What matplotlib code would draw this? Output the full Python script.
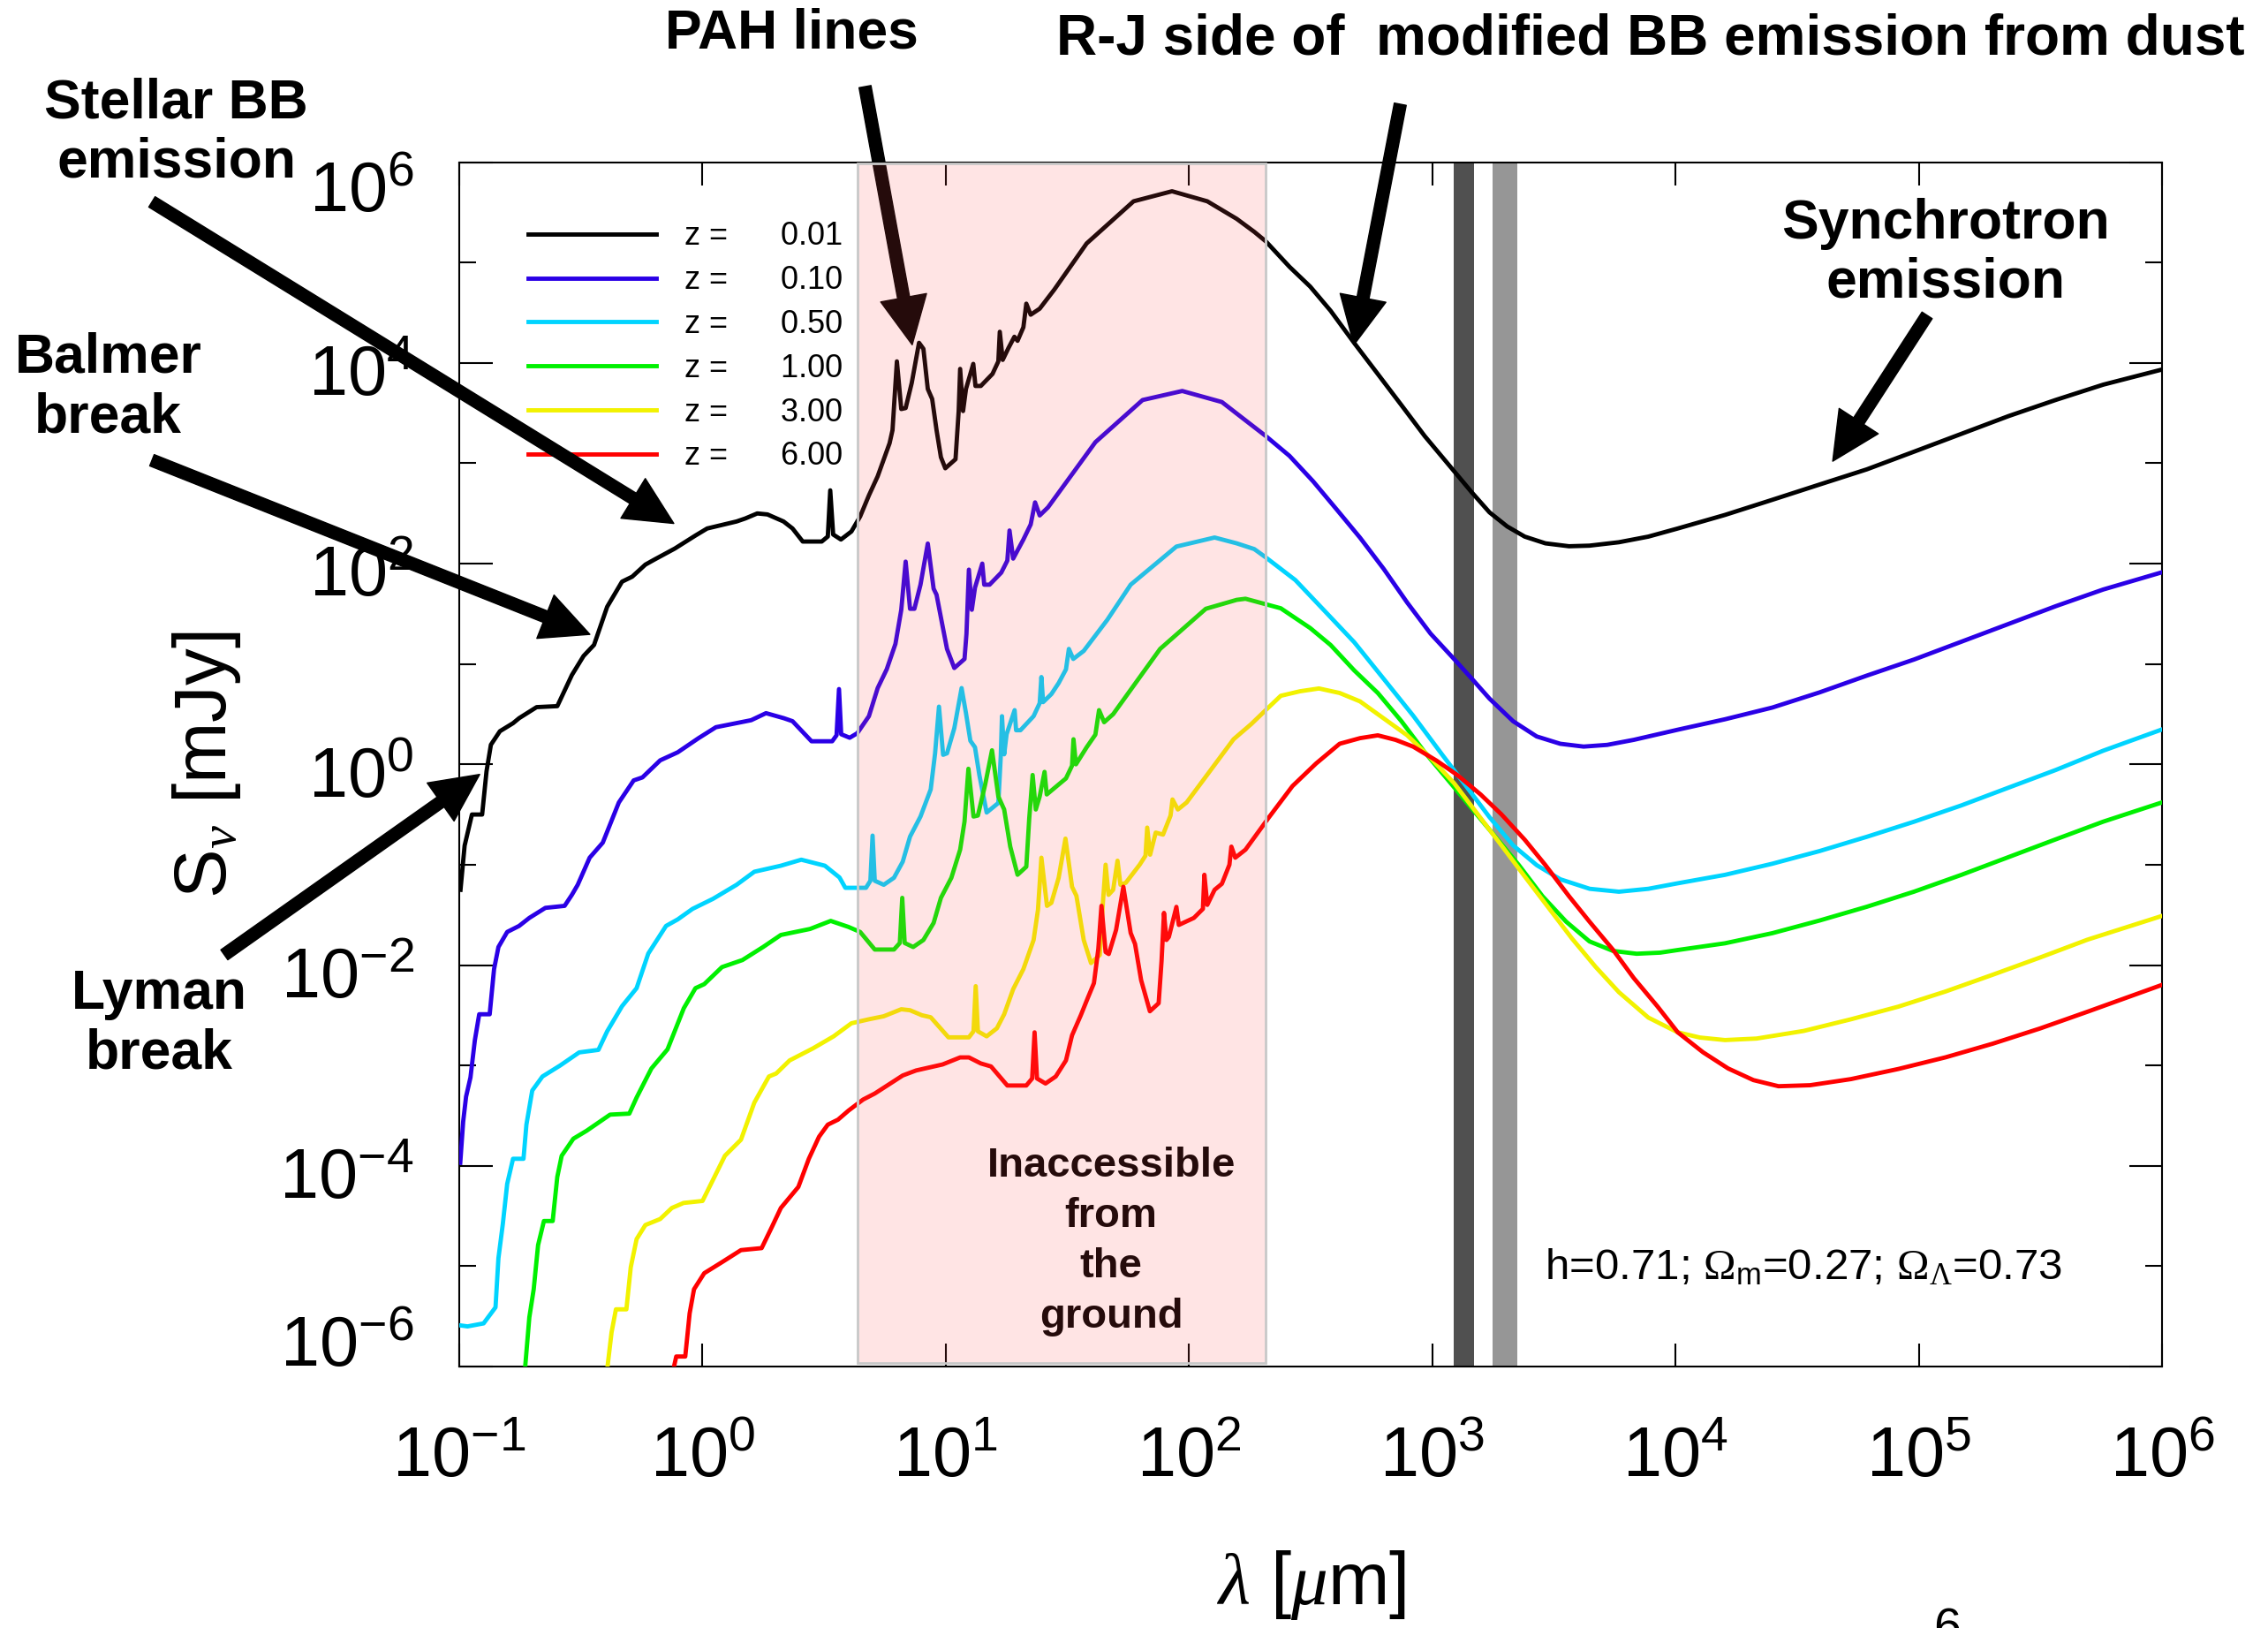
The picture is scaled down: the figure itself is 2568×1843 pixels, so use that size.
import numpy as np
import matplotlib
matplotlib.use("Agg")
import matplotlib.pyplot as plt
from matplotlib import font_manager
from matplotlib.ticker import NullLocator, NullFormatter
from matplotlib.transforms import ScaledTranslation

plt.rcParams['font.family'] = ['Liberation Sans', 'DejaVu Sans']
plt.rcParams['mathtext.fontset'] = 'custom'
plt.rcParams['mathtext.rm'] = 'Liberation Serif'
plt.rcParams['mathtext.it'] = 'Liberation Serif:italic'
plt.rcParams['mathtext.bf'] = 'Liberation Sans:bold'

redshifts = [0.01, 0.10, 0.50, 1.00, 3.00, 6.00]
colors = ['#000000', '#2a00e6', '#00d4ff', '#00f000', '#f2f200', '#ff0000']

# log10(wavelength / um) and log10(flux / mJy)
loglam_z001 = [-0.995, -0.978, -0.948, -0.906, -0.888, -0.870, -0.833, -0.779, -0.754, -0.682,
               -0.597, -0.537, -0.489, -0.446, -0.392, -0.331, -0.289, -0.235, -0.198, -0.114,
               -0.029, 0.019, 0.140, 0.176, 0.225, 0.267, 0.333, 0.370, 0.412, 0.490,
               0.515, 0.525, 0.537, 0.569, 0.612, 0.648, 0.684, 0.720, 0.769, 0.781,
               0.799, 0.817, 0.835, 0.860, 0.890, 0.908, 0.926, 0.944, 0.962, 0.980,
               0.998, 1.040, 1.053, 1.059, 1.071, 1.083, 1.113, 1.122, 1.144, 1.192,
               1.216, 1.222, 1.234, 1.258, 1.282, 1.295, 1.319, 1.331, 1.349, 1.386,
               1.446, 1.579, 1.772, 1.930, 2.075, 2.196, 2.268, 2.316, 2.413, 2.498,
               2.582, 2.679, 2.776, 2.873, 2.969, 3.066, 3.163, 3.235, 3.308, 3.380,
               3.465, 3.562, 3.646, 3.767, 3.888, 4.009, 4.203, 4.398, 4.592, 4.786,
               4.981, 5.175, 5.369, 5.563, 5.758, 6.000]
logS_z001 = [-1.25, -0.81, -0.50, -0.50, -0.07, 0.195, 0.33, 0.41, 0.46, 0.57,
             0.58, 0.89, 1.08, 1.19, 1.57, 1.82, 1.87, 1.99, 2.04, 2.15,
             2.28, 2.35, 2.42, 2.45, 2.50, 2.49, 2.42, 2.35, 2.22, 2.22,
             2.27, 2.73, 2.29, 2.24, 2.32, 2.47, 2.68, 2.87, 3.20, 3.33,
             4.015, 3.54, 3.55, 3.80, 4.20, 4.14, 3.74, 3.64, 3.33, 3.06,
             2.95, 3.04, 3.52, 3.94, 3.52, 3.74, 3.99, 3.77, 3.77, 3.89,
             4.015, 4.31, 4.03, 4.15, 4.26, 4.22, 4.355, 4.59, 4.48, 4.54,
             4.73, 5.19, 5.61, 5.71, 5.61, 5.435, 5.306, 5.21, 4.957, 4.76,
             4.519, 4.198, 3.889, 3.579, 3.27, 2.989, 2.708, 2.511, 2.37, 2.269,
             2.202, 2.173, 2.179, 2.213, 2.269, 2.35, 2.485, 2.636, 2.788, 2.939,
             3.116, 3.293, 3.47, 3.631, 3.783, 3.934]

loglam_z010 = [-0.996, -0.984, -0.972, -0.954, -0.936, -0.918, -0.875, -0.857, -0.839, -0.803,
               -0.754, -0.712, -0.646, -0.567, -0.537, -0.513, -0.464, -0.410, -0.344, -0.283,
               -0.247, -0.174, -0.102, -0.017, 0.055, 0.200, 0.261, 0.334, 0.370, 0.448,
               0.533, 0.551, 0.561, 0.570, 0.605, 0.636, 0.684, 0.720, 0.757, 0.793,
               0.817, 0.835, 0.853, 0.871, 0.896, 0.926, 0.950, 0.962, 0.985, 1.005,
               1.035, 1.077, 1.085, 1.095, 1.107, 1.120, 1.150, 1.158, 1.180, 1.228,
               1.253, 1.262, 1.277, 1.319, 1.349, 1.367, 1.386, 1.420, 1.615, 1.809,
               1.972, 2.135, 2.196, 2.316, 2.413, 2.510, 2.607, 2.703, 2.800, 2.897,
               2.993, 3.090, 3.163, 3.235, 3.332, 3.429, 3.526, 3.622, 3.719, 3.828,
               4.009, 4.203, 4.398, 4.592, 4.786, 4.981, 5.175, 5.369, 5.563, 5.758,
               6.000]
logS_z010 = [-3.97, -3.56, -3.31, -3.12, -2.75, -2.49, -2.49, -2.04, -1.82, -1.67,
             -1.61, -1.53, -1.43, -1.41, -1.30, -1.20, -0.93, -0.78, -0.38, -0.16,
             -0.13, 0.04, 0.12, 0.26, 0.37, 0.44, 0.51, 0.46, 0.43, 0.23,
             0.23, 0.29, 0.75, 0.30, 0.265, 0.31, 0.48, 0.76, 0.946, 1.20,
             1.54, 2.02, 1.55, 1.55, 1.79, 2.20, 1.75, 1.69, 1.40, 1.15,
             0.96, 1.05, 1.30, 1.94, 1.54, 1.76, 2.00, 1.79, 1.79, 1.91,
             2.03, 2.33, 2.05, 2.24, 2.39, 2.61, 2.48, 2.56, 3.21, 3.63,
             3.72, 3.61, 3.495, 3.27, 3.073, 2.82, 2.539, 2.258, 1.948, 1.611,
             1.302, 1.048, 0.852, 0.655, 0.43, 0.278, 0.205, 0.177, 0.194, 0.244,
             0.345, 0.449, 0.566, 0.717, 0.884, 1.045, 1.222, 1.399, 1.576, 1.742,
             1.914]

loglam_z050 = [-0.996, -0.966, -0.900, -0.851, -0.839, -0.821, -0.803, -0.779, -0.736, -0.724,
               -0.700, -0.658, -0.585, -0.507, -0.428, -0.392, -0.331, -0.271, -0.223, -0.150,
               -0.102, -0.041, 0.043, 0.140, 0.213, 0.322, 0.406, 0.503, 0.563, 0.587,
               0.672, 0.690, 0.699, 0.708, 0.745, 0.787, 0.823, 0.853, 0.896, 0.938,
               0.956, 0.972, 0.989, 1.005, 1.035, 1.065, 1.083, 1.101, 1.120, 1.138,
               1.168, 1.216, 1.226, 1.231, 1.240, 1.250, 1.283, 1.289, 1.307, 1.361,
               1.386, 1.393, 1.400, 1.434, 1.464, 1.494, 1.506, 1.524, 1.567, 1.664,
               1.760, 1.948, 2.105, 2.196, 2.268, 2.316, 2.437, 2.558, 2.679, 2.800,
               2.921, 3.042, 3.139, 3.235, 3.332, 3.429, 3.526, 3.647, 3.767, 3.888,
               4.009, 4.203, 4.398, 4.592, 4.786, 4.981, 5.175, 5.369, 5.563, 5.758,
               6.000]
logS_z050 = [-5.59, -5.60, -5.57, -5.41, -4.92, -4.58, -4.18, -3.93, -3.93, -3.59,
             -3.25, -3.11, -3.00, -2.87, -2.845, -2.66, -2.41, -2.23, -1.885, -1.61,
             -1.545, -1.44, -1.34, -1.20, -1.07, -1.01, -0.95, -1.01, -1.127, -1.23,
             -1.23, -1.16, -0.71, -1.16, -1.20, -1.13, -0.97, -0.72, -0.52, -0.25,
             0.11, 0.575, 0.095, 0.11, 0.36, 0.76, 0.51, 0.235, 0.17, -0.106,
             -0.48, -0.385, 0.08, 0.48, 0.10, 0.30, 0.54, 0.34, 0.34, 0.48,
             0.61, 0.87, 0.62, 0.70, 0.81, 0.946, 1.15, 1.05, 1.13, 1.44,
             1.79, 2.17, 2.26, 2.202, 2.145, 2.061, 1.836, 1.527, 1.217, 0.852,
             0.486, 0.092, -0.217, -0.526, -0.807, -1.004, -1.145, -1.24, -1.269, -1.24,
             -1.185, -1.101, -0.99, -0.864, -0.722, -0.571, -0.409, -0.232, -0.056, 0.136,
             0.348]

loglam_z100 = [-0.735, -0.730, -0.712, -0.694, -0.676, -0.652, -0.616, -0.597, -0.579, -0.531,
               -0.476, -0.440, -0.380, -0.301, -0.271, -0.210, -0.144, -0.077, -0.029, 0.007,
               0.080, 0.164, 0.249, 0.322, 0.442, 0.527, 0.600, 0.648, 0.708, 0.787,
               0.811, 0.821, 0.831, 0.866, 0.908, 0.950, 0.980, 1.023, 1.059, 1.077,
               1.093, 1.114, 1.132, 1.162, 1.190, 1.216, 1.240, 1.265, 1.295, 1.331,
               1.343, 1.357, 1.370, 1.386, 1.406, 1.415, 1.494, 1.519, 1.525, 1.535,
               1.579, 1.615, 1.630, 1.651, 1.688, 1.881, 2.069, 2.196, 2.232, 2.377,
               2.498, 2.582, 2.679, 2.776, 2.873, 2.969, 3.066, 3.163, 3.260, 3.356,
               3.453, 3.550, 3.646, 3.743, 3.840, 3.937, 4.009, 4.203, 4.398, 4.592,
               4.786, 4.981, 5.175, 5.369, 5.563, 5.758, 6.000]
logS_z100 = [-6.30, -6.03, -5.51, -5.23, -4.79, -4.55, -4.55, -4.11, -3.90, -3.73,
             -3.65, -3.59, -3.49, -3.48, -3.32, -3.03, -2.84, -2.43, -2.23, -2.19,
             -2.02, -1.95, -1.82, -1.70, -1.64, -1.56, -1.62, -1.67, -1.845, -1.845,
             -1.78, -1.33, -1.78, -1.82, -1.75, -1.58, -1.33, -1.13, -0.85, -0.57,
             -0.044, -0.52, -0.51, -0.20, 0.14, -0.32, -0.45, -0.82, -1.10, -1.02,
             -0.54, -0.106, -0.45, -0.32, -0.075, -0.30, -0.14, -0.013, 0.25, 0.0,
             0.17, 0.296, 0.54, 0.42, 0.50, 1.15, 1.55, 1.639, 1.65, 1.555,
             1.358, 1.189, 0.936, 0.711, 0.43, 0.12, -0.16, -0.442, -0.723, -1.004,
             -1.314, -1.567, -1.764, -1.859, -1.887, -1.876, -1.85, -1.783, -1.682, -1.556,
             -1.419, -1.268, -1.101, -0.924, -0.747, -0.571, -0.379]

loglam_z300 = [-0.397, -0.392, -0.374, -0.356, -0.313, -0.295, -0.271, -0.235, -0.174, -0.126,
               -0.078, 0.000, 0.043, 0.092, 0.158, 0.213, 0.273, 0.303, 0.358, 0.454,
               0.539, 0.612, 0.684, 0.745, 0.817, 0.853, 0.902, 0.938, 1.011, 1.095,
               1.114, 1.123, 1.132, 1.168, 1.210, 1.240, 1.277, 1.319, 1.361, 1.379,
               1.393, 1.416, 1.434, 1.464, 1.492, 1.519, 1.537, 1.567, 1.597, 1.633,
               1.645, 1.657, 1.669, 1.688, 1.706, 1.718, 1.740, 1.797, 1.821, 1.828,
               1.840, 1.863, 1.893, 1.924, 1.932, 1.954, 1.990, 2.183, 2.256, 2.316,
               2.377, 2.456, 2.534, 2.619, 2.703, 2.800, 2.897, 2.993, 3.090, 3.187,
               3.284, 3.380, 3.477, 3.574, 3.671, 3.767, 3.888, 4.009, 4.100, 4.203,
               4.333, 4.527, 4.721, 4.916, 5.110, 5.304, 5.499, 5.693, 6.000]
logS_z300 = [-6.30, -6.03, -5.66, -5.43, -5.43, -5.01, -4.73, -4.59, -4.53, -4.42,
             -4.37, -4.35, -4.14, -3.90, -3.74, -3.37, -3.11, -3.08, -2.95, -2.83,
             -2.71, -2.58, -2.54, -2.51, -2.44, -2.45, -2.50, -2.52, -2.72, -2.72,
             -2.66, -2.21, -2.66, -2.71, -2.63, -2.49, -2.24, -2.04, -1.75, -1.45,
             -0.93, -1.41, -1.38, -1.13, -0.74, -1.22, -1.31, -1.75, -1.98, -1.90,
             -1.41, -1.00, -1.30, -1.25, -0.96, -1.20, -1.18, -1.00, -0.91, -0.63,
             -0.90, -0.68, -0.70, -0.51, -0.35, -0.45, -0.38, 0.25, 0.402, 0.542,
             0.683, 0.728, 0.756, 0.711, 0.627, 0.458, 0.289, 0.064, -0.189, -0.498,
             -0.807, -1.117, -1.426, -1.735, -2.017, -2.27, -2.523, -2.67, -2.722, -2.747,
             -2.732, -2.656, -2.54, -2.414, -2.263, -2.096, -1.924, -1.747, -1.51]

loglam_z600 = [-0.125, -0.120, -0.108, -0.071, -0.053, -0.035, 0.007, 0.080, 0.158, 0.243,
               0.285, 0.322, 0.394, 0.437, 0.479, 0.515, 0.557, 0.600, 0.660, 0.708,
               0.823, 0.878, 0.987, 1.059, 1.095, 1.144, 1.186, 1.253, 1.331, 1.355,
               1.365, 1.375, 1.410, 1.452, 1.494, 1.519, 1.555, 1.585, 1.609, 1.627,
               1.640, 1.657, 1.670, 1.700, 1.730, 1.760, 1.778, 1.803, 1.839, 1.875,
               1.887, 1.897, 1.907, 1.917, 1.948, 1.958, 2.020, 2.057, 2.063, 2.075,
               2.105, 2.135, 2.166, 2.174, 2.190, 2.232, 2.329, 2.425, 2.522, 2.619,
               2.703, 2.776, 2.849, 2.921, 3.018, 3.102, 3.199, 3.284, 3.380, 3.465,
               3.562, 3.646, 3.743, 3.828, 3.925, 4.009, 4.113, 4.216, 4.320, 4.423,
               4.553, 4.721, 4.916, 5.110, 5.304, 5.499, 5.693, 6.000]
logS_z600 = [-6.30, -6.03, -5.90, -5.90, -5.47, -5.23, -5.07, -4.96, -4.84, -4.82,
             -4.61, -4.42, -4.21, -3.93, -3.71, -3.59, -3.54, -3.45, -3.34, -3.28,
             -3.10, -3.05, -2.99, -2.92, -2.92, -2.98, -3.01, -3.20, -3.20, -3.13,
             -2.67, -3.13, -3.18, -3.11, -2.95, -2.70, -2.50, -2.32, -2.18, -1.84,
             -1.41, -1.87, -1.89, -1.65, -1.22, -1.68, -1.79, -2.15, -2.46, -2.38,
             -1.96, -1.48, -1.75, -1.72, -1.42, -1.60, -1.53, -1.44, -1.10, -1.40,
             -1.25, -1.19, -1.00, -0.82, -0.93, -0.85, -0.526, -0.217, 0.008, 0.205,
             0.261, 0.289, 0.244, 0.177, 0.036, -0.105, -0.301, -0.498, -0.751, -1.004,
             -1.314, -1.567, -1.848, -2.129, -2.41, -2.67, -2.869, -3.03, -3.146, -3.207,
             -3.197, -3.136, -3.035, -2.919, -2.783, -2.631, -2.465, -2.197]

curves = [(loglam_z001, logS_z001), (loglam_z010, logS_z010), (loglam_z050, logS_z050),
          (loglam_z100, logS_z100), (loglam_z300, logS_z300), (loglam_z600, logS_z600)]

# wavelength bands [um]
ground_band = (4.33, 207.0)
band_dark = (1224, 1483)
band_light = (1771, 2235)

names = {f.name for f in font_manager.fontManager.ttflist}
if 'Liberation Sans Narrow' in names:
    tick_font, tick_size = 'Liberation Sans Narrow', 62
else:
    tick_font, tick_size = 'Liberation Sans', 57

fig = plt.figure(figsize=(25.68, 18.43), dpi=100)
ax = fig.add_axes([0.2025, 0.1606, 0.7508, 0.7398])
ax.set_xscale('log')
ax.set_yscale('log')
ax.set_xlim(1e-1, 1e6)
ax.set_ylim(1e-6, 1e6)

ax.axvspan(*band_dark, color='#505050', lw=0, zorder=1)
ax.axvspan(*band_light, color='#969696', lw=0, zorder=1)

for (ll, ls), c, z in zip(curves, colors, redshifts):
    ax.plot(10 ** np.array(ll), 10 ** np.array(ls), color=c, lw=3.5, zorder=3,
            label=f'z =      {z:.2f}')

ax.axvspan(*ground_band, ymin=0.003, ymax=0.999, facecolor=(1, 0.3, 0.3), alpha=0.15,
           lw=0, zorder=10)
ax.axvspan(*ground_band, ymin=0.003, ymax=0.999, fill=False, edgecolor='#c8c8c8',
           lw=2, zorder=10)

ax.text(0.3828, 0.104, 'Inaccessible\nfrom\nthe\nground', transform=ax.transAxes,
        ha='center', va='center', fontsize=34, fontweight='bold', linespacing=1.38,
        color='black', zorder=4)

ax.text(0.6374, 0.0815, r'h=0.71; $\Omega_{\mathdefault{m}}$=0.27; $\Omega_{\Lambda}$=0.73',
        transform=ax.transAxes, ha='left', va='center', fontsize=35.5)

leg = ax.legend(loc='upper left', bbox_to_anchor=(0.0405, 0.951), frameon=False,
                fontsize=26, handlelength=4.0, handletextpad=0.91, labelspacing=0.41,
                borderpad=0, borderaxespad=0)
leg.set_zorder(5)

ax.set_xticks([10.0 ** k for k in range(-1, 7)])
ax.xaxis.set_minor_locator(NullLocator())
ax.set_yticks([10.0 ** k for k in range(-6, 7, 2)])
ax.set_yticks([10.0 ** k for k in range(-5, 6, 2)], minor=True)
ax.yaxis.set_minor_formatter(NullFormatter())

ax.tick_params(which='both', direction='in', top=True, right=True, width=1.5)
ax.tick_params(axis='x', which='major', length=19, labelsize=tick_size, pad=48,
               labelfontfamily=tick_font)
ax.tick_params(axis='y', which='major', length=27, labelsize=tick_size, pad=37,
               labelfontfamily=tick_font)
ax.tick_params(axis='y', which='minor', length=13.5)
for sp in ax.spines.values():
    sp.set_linewidth(1.5)

# the outer y labels sit inside the axis span, the others slightly below their tick
for lab, loc in zip(ax.get_yticklabels(), ax.get_yticks()):
    k = int(round(np.log10(loc)))
    dy = {6: -20, -6: 21}.get(k, -6)
    lab.set_transform(lab.get_transform() + ScaledTranslation(0, dy / 72, fig.dpi_scale_trans))

ax.set_xlabel(r'$\lambda$ [$\mu$m]', fontsize=60)
ax.xaxis.set_label_coords(0.5, -0.151)
ax.set_ylabel(r'S$_{\nu}$ [mJy]', fontsize=60)
ax.yaxis.set_label_coords(-0.127, 0.5)

# annotation arrows: tip on the curve, tail in figure coordinates
arrow_kw = dict(facecolor='black', edgecolor='black', width=9.9, headwidth=38,
                headlength=39, shrink=0)
arrows = [
    ((10 ** -0.118, 10 ** 2.40), (0.067, 0.876)),
    ((10 ** -0.463, 10 ** 1.295), (0.067, 0.7173)),
    ((10 ** -0.916, 10 ** -0.10), (0.0989, 0.4135)),
    ((10 ** 0.862, 10 ** 4.18), (0.3814, 0.9468)),
    ((10 ** 2.678, 10 ** 4.18), (0.6174, 0.936)),
    ((10 ** 4.646, 10 ** 3.02), (0.8497, 0.8063)),
]
for tip, tail in arrows:
    ax.annotate('', xy=tip, xycoords='data', xytext=tail, textcoords='figure fraction',
                arrowprops=arrow_kw, annotation_clip=False, zorder=6)

note_kw = dict(fontsize=45, fontweight='bold', ha='center', va='center', linespacing=1.18)
fig.text(0.0778, 0.9182, 'Stellar BB\nemission', **note_kw)
fig.text(0.0478, 0.7618, 'Balmer\nbreak', **note_kw)
fig.text(0.0702, 0.3708, 'Lyman\nbreak', **note_kw)
fig.text(0.3489, 0.9796, 'PAH lines', **note_kw)
fig.text(0.4656, 0.976, 'R-J side of  modified BB emission from dust', fontsize=46,
         fontweight='bold', ha='left', va='center')
fig.text(0.8579, 0.8444, 'Synchrotron\nemission', **note_kw)
fig.text(0.8586, 0.0125, '6', fontsize=40, ha='center', va='top', family=tick_font)

fig.savefig('out.png', dpi=100)
